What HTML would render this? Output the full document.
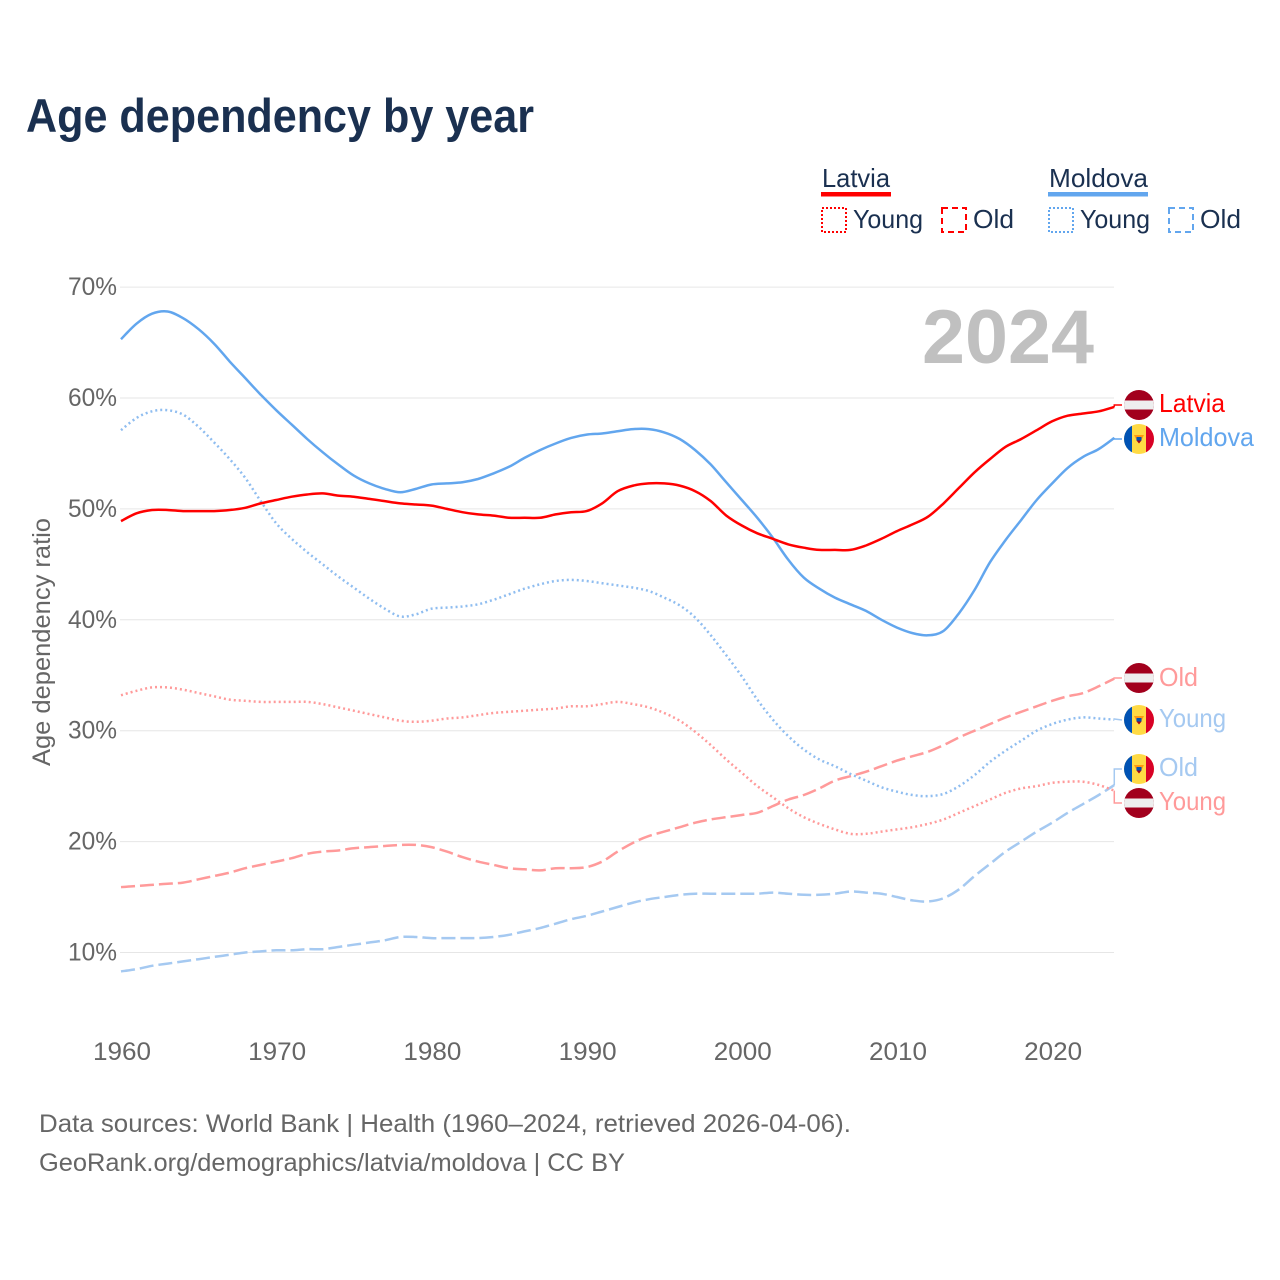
<!DOCTYPE html>
<html lang="en">
<head>
<meta charset="utf-8">
<title>Age dependency by year</title>
<style>
html,body{margin:0;padding:0;background:#fff;}
svg{display:block;font-family:"Liberation Sans",sans-serif;}
</style>
</head>
<body>
<svg id="chart" xmlns="http://www.w3.org/2000/svg" width="1280" height="1280" viewBox="0 0 1280 1280">
  <defs>
    <clipPath id="flag-clip"><circle cx="0" cy="0" r="15"/></clipPath>
    <g id="flag-latvia">
      <g clip-path="url(#flag-clip)">
        <rect x="-15" y="-15" width="30" height="30" fill="#a2001d"/>
        <rect x="-15" y="-4.5" width="30" height="9" fill="#eeeeee"/>
      </g>
    </g>
    <g id="flag-moldova">
      <g clip-path="url(#flag-clip)">
        <rect x="-15" y="-15" width="30" height="30" fill="#ffda44"/>
        <rect x="-15" y="-15" width="8" height="30" fill="#0052b4"/>
        <rect x="7" y="-15" width="8" height="30" fill="#d80027"/>
        <path d="M-5 -4 L5 -4 L2.5 1 L-2.5 1 Z" fill="#ff9811"/>
        <rect x="-2.5" y="-2" width="5" height="3.5" fill="#0052b4"/>
        <path d="M-2.5 1.5 L2.5 1.5 L0 4.5 Z" fill="#a2001d"/>
      </g>
    </g>
  </defs>

  <text x="26" y="132" font-size="47" font-weight="700" fill="#1a3050" textLength="508" lengthAdjust="spacingAndGlyphs">Age dependency by year</text>

  <g font-size="26" fill="#1a3050">
    <text x="822" y="187" textLength="68" lengthAdjust="spacingAndGlyphs">Latvia</text>
    <rect x="821" y="192" width="70" height="4.5" fill="#ff0000"/>
    <text x="1049" y="187" textLength="99" lengthAdjust="spacingAndGlyphs">Moldova</text>
    <rect x="1048" y="192" width="100" height="4.5" fill="#62a6ee"/>

    <rect x="822" y="208" width="24" height="24" fill="none" stroke="#ff0000" stroke-width="2" stroke-dasharray="2 2"/>
    <text x="853" y="228" textLength="70" lengthAdjust="spacingAndGlyphs">Young</text>
    <rect x="942" y="208" width="24" height="24" fill="none" stroke="#ff0000" stroke-width="2" stroke-dasharray="6 4"/>
    <text x="973" y="228" textLength="41" lengthAdjust="spacingAndGlyphs">Old</text>
    <rect x="1049" y="208" width="24" height="24" fill="none" stroke="#62a6ee" stroke-width="2" stroke-dasharray="2 2"/>
    <text x="1080" y="228" textLength="70" lengthAdjust="spacingAndGlyphs">Young</text>
    <rect x="1169" y="208" width="24" height="24" fill="none" stroke="#62a6ee" stroke-width="2" stroke-dasharray="6 4"/>
    <text x="1200" y="228" textLength="41" lengthAdjust="spacingAndGlyphs">Old</text>
  </g>

  <g id="grid"></g>
  <g id="y-ticks"></g>
  <g id="x-ticks"></g>

  <text transform="translate(50,766) rotate(-90)" font-size="25" fill="#666666" textLength="248" lengthAdjust="spacingAndGlyphs">Age dependency ratio</text>

  <text x="922" y="363" font-size="76" font-weight="700" fill="#c0c0c0" textLength="172" lengthAdjust="spacingAndGlyphs">2024</text>

  <g id="series"></g>
  <g id="connectors"></g>

  <g font-size="26">
    <use href="#flag-latvia" x="1139" y="405"/>
    <text x="1159" y="412" fill="#ff0000" textLength="66" lengthAdjust="spacingAndGlyphs">Latvia</text>
    <use href="#flag-moldova" x="1139" y="439"/>
    <text x="1159" y="446" fill="#62a6ee" textLength="95" lengthAdjust="spacingAndGlyphs">Moldova</text>
    <use href="#flag-latvia" x="1139" y="678"/>
    <text x="1159" y="686" fill="#ff9a9a" textLength="39" lengthAdjust="spacingAndGlyphs">Old</text>
    <use href="#flag-moldova" x="1139" y="720"/>
    <text x="1159" y="727" fill="#a5c9f1" textLength="67" lengthAdjust="spacingAndGlyphs">Young</text>
    <use href="#flag-moldova" x="1139" y="769"/>
    <text x="1159" y="776" fill="#a5c9f1" textLength="39" lengthAdjust="spacingAndGlyphs">Old</text>
    <use href="#flag-latvia" x="1139" y="803"/>
    <text x="1159" y="810" fill="#ff9a9a" textLength="67" lengthAdjust="spacingAndGlyphs">Young</text>
  </g>

  <g font-size="25" fill="#666666">
    <text x="39" y="1132" textLength="812" lengthAdjust="spacingAndGlyphs">Data sources: World Bank | Health (1960–2024, retrieved 2026-04-06).</text>
    <text x="39" y="1171" textLength="586" lengthAdjust="spacingAndGlyphs">GeoRank.org/demographics/latvia/moldova | CC BY</text>
  </g>
</svg>

<script>
var startYear = 1960;
var yTicks = [10, 20, 30, 40, 50, 60, 70];
var xTicks = [1960, 1970, 1980, 1990, 2000, 2010, 2020];

var latviaTotal = [48.9,49.6,49.9,49.9,49.8,49.8,49.8,49.9,50.1,50.5,50.8,51.1,51.3,51.4,51.2,51.1,50.9,50.7,50.5,50.4,50.3,50.0,49.7,49.5,49.4,49.2,49.2,49.2,49.5,49.7,49.8,50.5,51.6,52.1,52.3,52.3,52.1,51.6,50.7,49.4,48.5,47.8,47.3,46.8,46.5,46.3,46.3,46.3,46.7,47.3,48.0,48.6,49.3,50.5,51.9,53.3,54.5,55.6,56.3,57.1,57.9,58.4,58.6,58.8,59.2];
var moldovaTotal = [65.3,66.7,67.6,67.8,67.2,66.2,64.9,63.3,61.8,60.3,58.9,57.6,56.3,55.1,54.0,53.0,52.3,51.8,51.5,51.8,52.2,52.3,52.4,52.7,53.2,53.8,54.6,55.3,55.9,56.4,56.7,56.8,57.0,57.2,57.2,56.9,56.3,55.3,54.0,52.4,50.8,49.2,47.4,45.4,43.8,42.8,42.0,41.4,40.8,40.0,39.3,38.8,38.6,39.0,40.6,42.7,45.2,47.2,49.0,50.8,52.3,53.7,54.7,55.4,56.4];
var latviaYoung = [33.2,33.6,33.9,33.9,33.7,33.4,33.1,32.8,32.7,32.6,32.6,32.6,32.6,32.4,32.1,31.8,31.5,31.2,30.9,30.8,30.9,31.1,31.2,31.4,31.6,31.7,31.8,31.9,32.0,32.2,32.2,32.4,32.6,32.4,32.1,31.6,30.9,29.9,28.7,27.4,26.2,25.0,24.0,23.0,22.2,21.6,21.1,20.7,20.7,20.9,21.1,21.3,21.6,22.0,22.6,23.2,23.8,24.4,24.8,25.0,25.3,25.4,25.4,25.1,24.6];
var latviaOld = [15.9,16.0,16.1,16.2,16.3,16.6,16.9,17.2,17.6,17.9,18.2,18.5,18.9,19.1,19.2,19.4,19.5,19.6,19.7,19.7,19.5,19.1,18.6,18.2,17.9,17.6,17.5,17.4,17.6,17.6,17.7,18.2,19.1,19.9,20.5,20.9,21.3,21.7,22.0,22.2,22.4,22.6,23.2,23.8,24.2,24.8,25.5,25.9,26.3,26.8,27.3,27.7,28.1,28.7,29.4,30.0,30.6,31.2,31.7,32.2,32.7,33.1,33.4,34.0,34.7];
var moldovaYoung = [57.1,58.2,58.8,58.9,58.5,57.4,56.0,54.5,52.8,50.7,48.7,47.3,46.1,45.0,43.9,42.9,41.9,41.0,40.3,40.5,41.0,41.1,41.2,41.4,41.8,42.3,42.8,43.2,43.5,43.6,43.5,43.3,43.1,42.9,42.6,42.0,41.3,40.2,38.6,36.8,34.9,32.8,31.0,29.5,28.3,27.4,26.8,26.1,25.5,24.9,24.5,24.2,24.1,24.3,25.0,26.0,27.2,28.2,29.1,30.0,30.6,31.0,31.2,31.1,31.0];
var moldovaOld = [8.3,8.5,8.8,9.0,9.2,9.4,9.6,9.8,10.0,10.1,10.2,10.2,10.3,10.3,10.5,10.7,10.9,11.1,11.4,11.4,11.3,11.3,11.3,11.3,11.4,11.6,11.9,12.2,12.6,13.0,13.3,13.7,14.1,14.5,14.8,15.0,15.2,15.3,15.3,15.3,15.3,15.3,15.4,15.3,15.2,15.2,15.3,15.5,15.4,15.3,15.0,14.7,14.6,14.9,15.7,16.9,18.0,19.1,20.0,20.9,21.7,22.6,23.4,24.2,25.1];

var NS = 'http://www.w3.org/2000/svg';
function xScale(year) { return 121 + (year - 1960) * 15.52; }
function yScale(pct) { return 952.5 - (pct - 10) * 11.09; }

function linePath(values) {
  var pts = values.map(function (v, i) { return [xScale(startYear + i), yScale(v)]; });
  var d = 'M' + pts[0][0].toFixed(1) + ' ' + pts[0][1].toFixed(1);
  for (var i = 0; i < pts.length - 1; i++) {
    var p0 = pts[Math.max(i - 1, 0)];
    var p1 = pts[i];
    var p2 = pts[i + 1];
    var p3 = pts[Math.min(i + 2, pts.length - 1)];
    var c1x = p1[0] + (p2[0] - p0[0]) / 6;
    var c1y = p1[1] + (p2[1] - p0[1]) / 6;
    var c2x = p2[0] - (p3[0] - p1[0]) / 6;
    var c2y = p2[1] - (p3[1] - p1[1]) / 6;
    d += 'C' + c1x.toFixed(1) + ' ' + c1y.toFixed(1) + ' ' + c2x.toFixed(1) + ' ' + c2y.toFixed(1) + ' ' + p2[0].toFixed(1) + ' ' + p2[1].toFixed(1);
  }
  return d;
}

var gridGroup = document.getElementById('grid');
var yTickGroup = document.getElementById('y-ticks');
var xTickGroup = document.getElementById('x-ticks');
var seriesGroup = document.getElementById('series');
var connectorGroup = document.getElementById('connectors');

yTicks.forEach(function (t) {
  var line = document.createElementNS(NS, 'line');
  
  
  line.setAttribute('x1', 120);
  line.setAttribute('x2', 1114);
  line.setAttribute('y1', yScale(t));
  line.setAttribute('y2', yScale(t));
  line.setAttribute('stroke', '#e6e6e6');
  line.setAttribute('stroke-width', '1');
  gridGroup.appendChild(line);

  var label = document.createElementNS(NS, 'text');
  
  
  label.setAttribute('x', 68);
  label.setAttribute('y', yScale(t) + 8);
  label.setAttribute('font-size', '25');
  label.setAttribute('fill', '#666666');
  label.setAttribute('textLength', '49');
  label.setAttribute('lengthAdjust', 'spacingAndGlyphs');
  label.textContent = t + '%';
  yTickGroup.appendChild(label);
});

xTicks.forEach(function (t) {
  var label = document.createElementNS(NS, 'text');
  
  
  label.setAttribute('x', xScale(t) - 28);
  label.setAttribute('y', 1060);
  label.setAttribute('font-size', '25');
  label.setAttribute('fill', '#666666');
  label.setAttribute('textLength', '58');
  label.setAttribute('lengthAdjust', 'spacingAndGlyphs');
  label.textContent = t;
  xTickGroup.appendChild(label);
});

function addSeries(values, color, dash, width) {
  var path = document.createElementNS(NS, 'path');
  
  
  path.setAttribute('d', linePath(values));
  path.setAttribute('fill', 'none');
  path.setAttribute('stroke', color);
  path.setAttribute('stroke-width', width);
  path.setAttribute('stroke-linejoin', 'round');
  if (dash) path.setAttribute('stroke-dasharray', dash);
  seriesGroup.appendChild(path);
}

addSeries(moldovaOld, '#a5c9f1', '14 5', 2.5);
addSeries(latviaOld, '#ff9a9a', '14 5', 2.5);
addSeries(latviaYoung, '#ff9a9a', '2 3', 2.5);
addSeries(moldovaYoung, '#8fbdf0', '2 3', 2.5);
addSeries(moldovaTotal, '#62a6ee', '', 2.5);
addSeries(latviaTotal, '#ff0000', '', 2.5);

function addConnector(values, color, midY, flagY) {
  var endX = xScale(startYear + values.length - 1);
  var endY = yScale(values[values.length - 1]);
  var path = document.createElementNS(NS, 'path');
  
  
  path.setAttribute('d', 'M' + endX + ' ' + endY + ' L' + endX + ' ' + midY + ' L1122 ' + flagY);
  path.setAttribute('fill', 'none');
  path.setAttribute('stroke', color);
  path.setAttribute('stroke-width', '1.5');
  connectorGroup.appendChild(path);
}

addConnector(latviaTotal, '#ff0000', 405, 405);
addConnector(moldovaTotal, '#62a6ee', 439, 439);
addConnector(latviaOld, '#ff9a9a', 678, 678);
addConnector(moldovaYoung, '#a5c9f1', 719, 720);
addConnector(moldovaOld, '#a5c9f1', 769, 769);
addConnector(latviaYoung, '#ff9a9a', 803, 803);
</script>
</body>
</html>
